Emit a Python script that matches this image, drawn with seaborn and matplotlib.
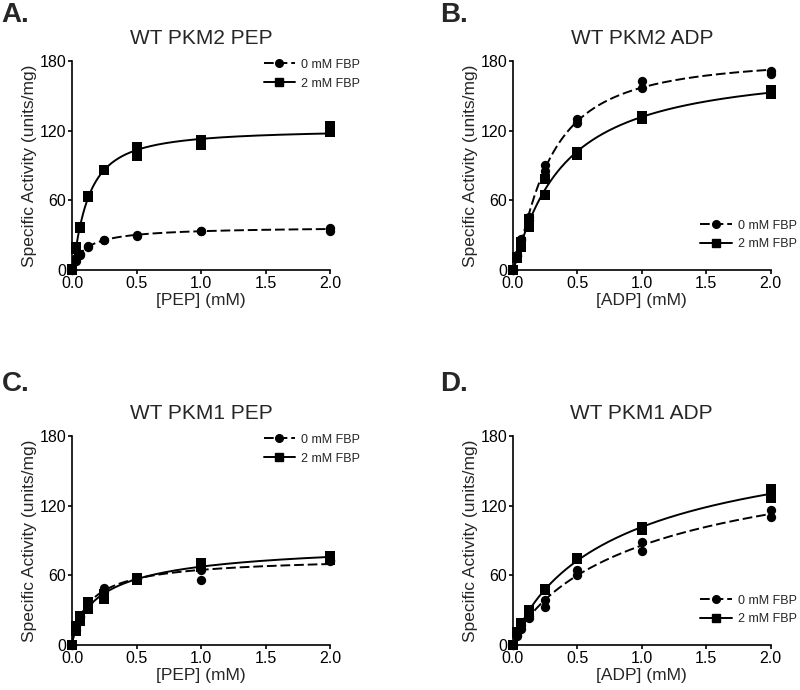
import numpy as np
import pandas as pd
import seaborn as sns
from matplotlib import pyplot as plt
from matplotlib.lines import Line2D

# substrate concentrations (mM), two replicates each
conc = [0, 0, 0.03125, 0.03125, 0.0625, 0.0625, 0.125, 0.125,
        0.25, 0.25, 0.5, 0.5, 1.0, 1.0, 2.0, 2.0]

# specific activity (units/mg)
pkm2_pep_0fbp = [0, 0, 8, 10, 13, 14, 20, 21, 26, 26, 29, 30, 34, 34, 34, 36]
pkm2_pep_2fbp = [0, 1, 18, 20, 36, 37, 63, 64, 86, 86, 98, 106, 108, 112, 119, 124]
pkm2_adp_0fbp = [0, 0, 12, 13, 26, 27, 43, 46, 85, 90, 127, 130, 157, 163, 169, 171]
pkm2_adp_2fbp = [0, 0, 10, 11, 20, 24, 37, 44, 65, 78, 99, 102, 130, 133, 152, 155]
pkm1_pep_0fbp = [0, 0, 13, 16, 24, 25, 36, 37, 46, 49, 57, 58, 56, 65, 72, 73]
pkm1_pep_2fbp = [0, 0, 12, 16, 21, 25, 31, 37, 40, 44, 56, 58, 67, 71, 73, 77]
pkm1_adp_0fbp = [0, 0, 8, 9, 14, 17, 23, 25, 33, 39, 60, 65, 81, 89, 110, 116]
pkm1_adp_2fbp = [0, 0, 10, 11, 16, 19, 27, 30, 47, 48, 74, 75, 99, 102, 127, 134]

panels = [
    ("A.", "WT PKM2 PEP", "[PEP] (mM)", pkm2_pep_0fbp, pkm2_pep_2fbp, "upper"),
    ("B.", "WT PKM2 ADP", "[ADP] (mM)", pkm2_adp_0fbp, pkm2_adp_2fbp, "lower"),
    ("C.", "WT PKM1 PEP", "[PEP] (mM)", pkm1_pep_0fbp, pkm1_pep_2fbp, "upper"),
    ("D.", "WT PKM1 ADP", "[ADP] (mM)", pkm1_adp_0fbp, pkm1_adp_2fbp, "lower"),
]
series_labels = ["0 mM FBP", "2 mM FBP"]


def hill_fit(x, y):
    # least-squares Hill fit: grid over K and n, Vmax solved exactly
    x = np.asarray(x, float)
    y = np.asarray(y, float)
    K = np.linspace(0.01, 3.0, 300)[:, None, None]
    n = np.linspace(0.5, 3.0, 126)[None, :, None]
    f = x ** n / (K ** n + x ** n)
    V = (f * y).sum(-1) / (f * f).sum(-1)
    sse = ((V[..., None] * f - y) ** 2).sum(-1)
    i, j = np.unravel_index(np.argmin(sse), sse.shape)
    return V[i, j], K[i, 0, 0], n[0, j, 0]


sns.set_theme(style="ticks")
plt.rcParams["font.family"] = ["Liberation Sans", "DejaVu Sans"]

fig = plt.figure(figsize=(8, 6.9), dpi=100)
positions = [(0.09, 0.6087), (0.641, 0.6087), (0.09, 0.0652), (0.641, 0.0652)]
letter_pos = [(0.002, 0.997), (0.55, 0.997), (0.002, 0.462), (0.55, 0.462)]
dashed = (0, (5, 2))

for (letter, title, xlabel, y0, y2, legloc), pos, lp in zip(panels, positions, letter_pos):
    ax = fig.add_axes([pos[0], pos[1], 0.3225, 0.3029])
    handles = []
    for y, marker, ls, lab in [(y0, "o", dashed, series_labels[0]),
                               (y2, "s", "-", series_labels[1])]:
        df = pd.DataFrame({"conc": conc, "activity": y})
        V, K, n = hill_fit(conc, y)
        xs = np.linspace(0, 2, 300)
        fit = pd.DataFrame({"conc": xs, "activity": V * xs ** n / (K ** n + xs ** n)})
        sns.lineplot(data=fit, x="conc", y="activity", ax=ax, color="black",
                     linewidth=1.4, linestyle=ls, clip_on=False)
        sns.scatterplot(data=df, x="conc", y="activity", ax=ax, color="black",
                        marker=marker, s=55 if marker == "s" else 45,
                        edgecolor="black", linewidth=0, clip_on=False, zorder=3)
        handles.append(Line2D([], [], color="black", linestyle=ls, linewidth=1.4,
                              marker=marker, markersize=5.5, label=lab))

    ax.set_xlim(0, 2.0)
    ax.set_ylim(0, 180)
    ax.set_xticks([0, 0.5, 1.0, 1.5, 2.0])
    ax.set_xticklabels(["0.0", "0.5", "1.0", "1.5", "2.0"])
    ax.set_yticks([0, 60, 120, 180])
    sns.despine(ax=ax)
    for s in ["left", "bottom"]:
        ax.spines[s].set_linewidth(1.2)
        ax.spines[s].set_color("black")
    ax.tick_params(axis="both", labelsize=11.5, width=1.2, length=3, pad=1, colors="black")
    ax.set_xlabel(xlabel, fontsize=12.5, labelpad=2)
    ax.set_ylabel("Specific Activity (units/mg)", fontsize=12.5, labelpad=2)
    ax.set_title(title, fontsize=15, pad=12)

    if legloc == "upper":
        leg = ax.legend(handles=handles, loc="upper right", bbox_to_anchor=(1.16, 1.065),
                        fontsize=9, handlelength=2.5, handletextpad=0.5, labelspacing=0.55)
    else:
        leg = ax.legend(handles=handles, loc="lower right", bbox_to_anchor=(1.145, 0.04),
                        fontsize=9, handlelength=2.5, handletextpad=0.5, labelspacing=0.55)
    leg.get_frame().set_visible(False)

    fig.text(lp[0], lp[1], letter, fontsize=20, fontweight="bold", va="top", ha="left")

plt.savefig("out.png", dpi=100)
